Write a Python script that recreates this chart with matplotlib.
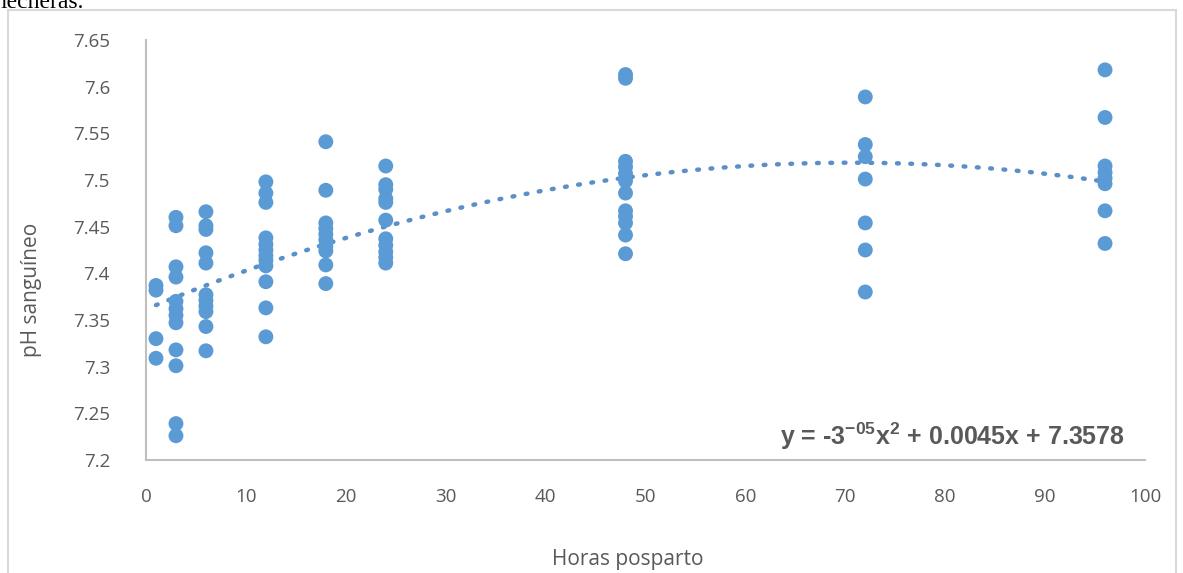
import numpy as np
import matplotlib
matplotlib.use("Agg")
import matplotlib.pyplot as plt
import matplotlib.patches as mpatches

# ------------------------------------------------------------
# Data: blood pH by hours postpartum
# ------------------------------------------------------------
hours_1 = [7.387, 7.382, 7.330, 7.309]
hours_3 = [7.460, 7.451, 7.407, 7.396, 7.370, 7.362, 7.355, 7.347,
           7.318, 7.301, 7.239, 7.226]
hours_6 = [7.466, 7.451, 7.447, 7.422, 7.411, 7.377, 7.371, 7.365,
           7.359, 7.343, 7.317]
hours_12 = [7.498, 7.486, 7.476, 7.438, 7.431, 7.425, 7.419, 7.414,
            7.408, 7.391, 7.363, 7.332]
hours_18 = [7.541, 7.489, 7.454, 7.448, 7.442, 7.436, 7.429, 7.424,
            7.409, 7.389]
hours_24 = [7.515, 7.495, 7.490, 7.480, 7.476, 7.457, 7.437, 7.430,
            7.423, 7.417, 7.411]
hours_48 = [7.613, 7.609, 7.520, 7.514, 7.507, 7.499, 7.486, 7.467,
            7.461, 7.454, 7.441, 7.421]
hours_72 = [7.589, 7.538, 7.525, 7.501, 7.454, 7.425, 7.380]
hours_96 = [7.618, 7.567, 7.515, 7.508, 7.502, 7.496, 7.467, 7.432]

groups = {1: hours_1, 3: hours_3, 6: hours_6, 12: hours_12, 18: hours_18,
          24: hours_24, 48: hours_48, 72: hours_72, 96: hours_96}

x = np.concatenate([[h] * len(v) for h, v in groups.items()])
y = np.concatenate([v for v in groups.values()])

# quadratic trend line (like Excel's polynomial trendline)
coef = np.polyfit(x, y, 2)
xt = np.linspace(x.min(), x.max(), 200)
yt = np.polyval(coef, xt)

# ------------------------------------------------------------
# Figure
# ------------------------------------------------------------
W, H = 1183, 573
fig = plt.figure(figsize=(W / 100, H / 100), dpi=100)
ax = fig.add_axes([146 / W, 1 - 460 / H, (1145 - 146) / W, (460 - 40) / H])

blue = '#5B9BD5'
grey = '#595959'

ax.scatter(x, y, s=115, color=blue, edgecolors='none', zorder=3)
ax.plot(xt, yt, linestyle=(0, (0.4, 2.6)), color='#5B8FC7', linewidth=3.2,
        dash_capstyle='round', zorder=2)

ax.set_xlim(0, 100)
ax.set_ylim(7.2, 7.65)
ax.set_xticks(np.arange(0, 101, 10))
ax.set_yticks(np.arange(7.2, 7.651, 0.05))
ax.set_yticklabels(['7.2', '7.25', '7.3', '7.35', '7.4', '7.45', '7.5',
                    '7.55', '7.6', '7.65'])

for s in ['top', 'right']:
    ax.spines[s].set_visible(False)
for s in ['left', 'bottom']:
    ax.spines[s].set_color('#BFBFBF')
    ax.spines[s].set_linewidth(1.5)

ax.tick_params(axis='both', length=0, labelsize=13.5, labelcolor=grey)
ax.tick_params(axis='y', pad=26)
ax.tick_params(axis='x', pad=20)
for lab in ax.get_xticklabels() + ax.get_yticklabels():
    lab.set_family('Open Sans')

ax.text(0.98, 0.018, r'y = -3$^{\mathregular{-05}}$x$^{\mathregular{2}}$ + 0.0045x + 7.3578',
        transform=ax.transAxes, ha='right', va='bottom', fontsize=18,
        fontweight='bold', color=grey, family='Liberation Sans')

fig.text(32 / W, 1 - 290 / H, 'pH sanguíneo', rotation=90, ha='center',
         va='center', fontsize=15, color=grey, family='Open Sans')
fig.text(628 / W, 1 - 560 / H, 'Horas posparto', ha='center', va='center',
         fontsize=15, color=grey, family='Open Sans')

# chart area border and cut-off caption text above it
fig.patches.append(mpatches.Rectangle((8 / W, -0.02), (1176 - 8) / W,
                                      1.02 - 10 / H, transform=fig.transFigure,
                                      fill=False, edgecolor='#D9D9D9',
                                      linewidth=1.5))
fig.text(0, 1 - 8 / H, 'lecheras.', ha='left', va='baseline', fontsize=17,
         color='black', family='Liberation Serif')

fig.savefig('out.png', dpi=100)
